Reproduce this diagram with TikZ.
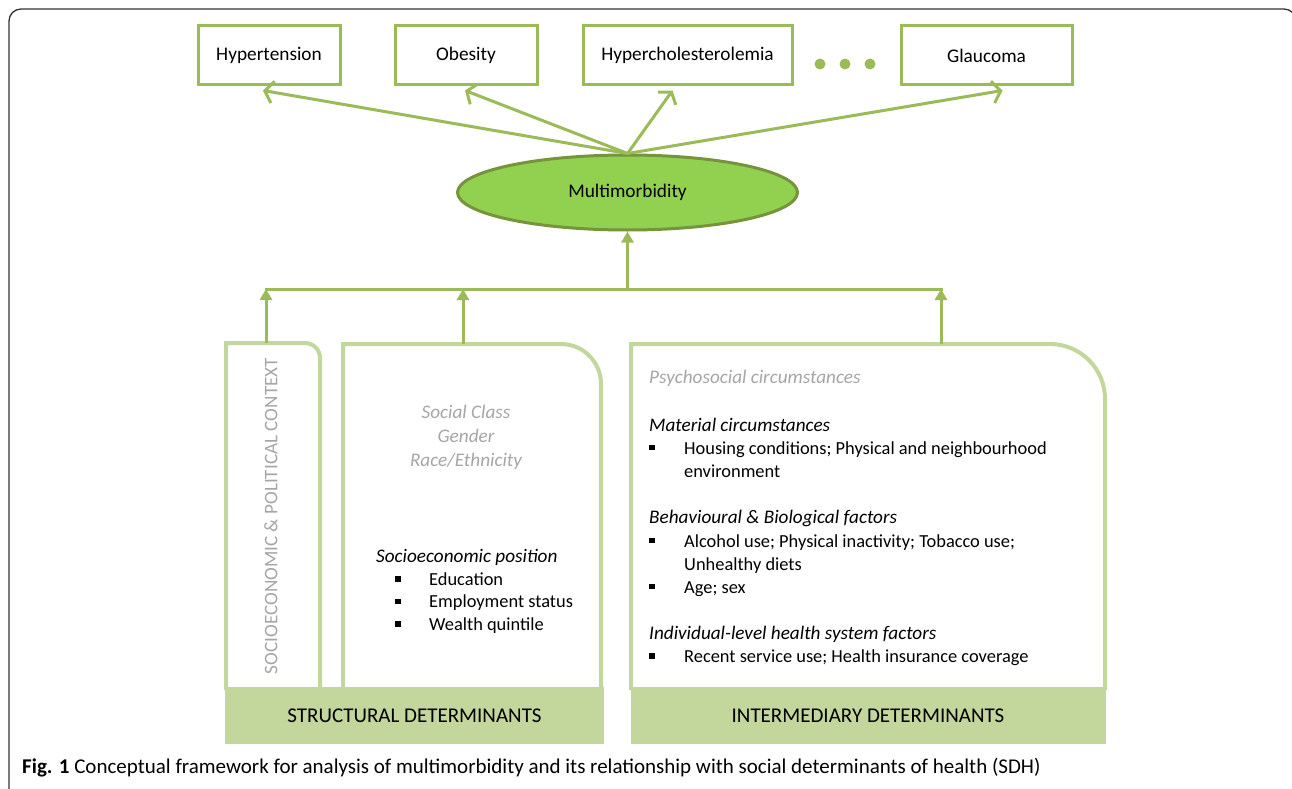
\documentclass[tikz,border=0pt]{standalone}
\usepackage{fontspec}
\setmainfont{Carlito}
\usetikzlibrary{arrows.meta,shapes.geometric,calc}
\definecolor{condline}{HTML}{9BBB59}
\definecolor{ovalfill}{HTML}{92D050}
\definecolor{ovaldraw}{HTML}{77933C}
\definecolor{panelline}{HTML}{C3D69B}
\definecolor{softgray}{HTML}{A6A6A6}
\definecolor{framegray}{HTML}{333333}
\newcommand{\bodysize}{\fontsize{18.4}{22}\selectfont}
\newcommand{\slantsize}{\fontsize{19.2}{22}\selectfont\itshape}

\begin{document}
\begin{tikzpicture}[x=1pt, y=-1pt,
 cond/.style={draw=condline, line width=3pt, fill=white, font=\fontsize{19.3}{22}\selectfont,
              minimum height=59pt, inner sep=0pt},
 oval/.style={ellipse, draw=ovaldraw, fill=ovalfill, line width=3pt, font=\fontsize{19.3}{22}\selectfont,
              minimum width=340pt, minimum height=75pt},
 pan/.style={draw=panelline, line width=4pt, fill=white},
 band/.style={fill=panelline, font=\fontsize{21}{24}\selectfont, minimum height=57pt, inner sep=0pt},
 dot/.style={circle, fill=condline, minimum size=11pt, inner sep=0pt},
 bul/.style={fill=black, minimum size=5.5pt, inner sep=0pt},
 txt/.style={anchor=base west, font=\bodysize, inner sep=0pt},
 head/.style={txt, font=\slantsize},
 soft/.style={txt, font=\slantsize, text=softgray},
 fan/.style={-{Straight Barb[length=8pt, width=22pt]}, condline, line width=3pt},
 up/.style={-{Triangle[length=11pt, width=12pt]}, condline, line width=3pt},
 bar/.style={condline, line width=3pt},
]
 \useasboundingbox (0,0) rectangle (1292,789);
 \draw[framegray, line width=1.3pt, rounded corners=12pt] (9,797) -- (9,9) -- (1296,9) -- (1296,797);

 % conditions
 \node[cond, minimum width=142pt] (hyp) at (269,55.5) {Hypertension};
 \node[cond, minimum width=142pt] (obe) at (466,55.5) {Obesity};
 \node[cond, minimum width=209pt] (chol) at (687.5,55.5) {Hypercholesterolemia};
 \node[cond, minimum width=171pt] (glau) at (986.5,55.5) {Glaucoma};
 \node[dot] (d1) at (820,64) {};
 \node[dot] (d2) at (845,64) {};
 \node[dot] (d3) at (870,64) {};

 \node[oval] (multi) at (627.5,192.5) {Multimorbidity};

 \draw[fan] (multi.north) -- ($(hyp.south)+(-6,4)$);
 \draw[fan] (multi.north) -- ($(obe.south)+(-1,4)$);
 \draw[fan] (multi.north) -- ($(chol.south)+(-15,4)$);
 \draw[fan] (multi.north) -- ($(glau.south)+(16,4)$);

 % determinant panels
 \draw[pan] (226,690) -- (226,343) -- (305,343) .. controls (313.3,343) and (320,349.7) .. (320,358) -- (320,690);
 \draw[pan] (343,690) -- (343,344) -- (561,344) .. controls (583.1,344) and (601,361.9) .. (601,384) -- (601,690);
 \draw[pan] (631,690) -- (631,344) -- (1050,344) .. controls (1080.4,344) and (1105,368.6) .. (1105,399) -- (1105,690);

 \node[band, minimum width=379pt] (struct) at (414.5,715.5) {STRUCTURAL DETERMINANTS};
 \node[band, minimum width=475pt] (inter) at (868,715.5) {INTERMEDIARY DETERMINANTS};

 % joining bar
 \coordinate (ctxtop) at (266,343);
 \coordinate (septop) at (463,344);
 \coordinate (inttop) at (941,344);
 \coordinate (jctx) at (266,289);
 \coordinate (jsep) at (463,289);
 \coordinate (jmid) at (627.5,289);
 \coordinate (jint) at (941,289);
 \draw[bar] ($(jctx)+(-1.5,0)$) -- ($(jint)+(1.5,0)$);
 \draw[up] (ctxtop) -- (jctx);
 \draw[up] (septop) -- (jsep);
 \draw[up] (inttop) -- (jint);
 \draw[up] (jmid) -- (multi.south);

 % structural side
 \node[rotate=90, font=\fontsize{19.2}{22}\selectfont, text=softgray] (ctx) at (271,516) {SOCIOECONOMIC \& POLITICAL CONTEXT};
 \node[anchor=base, font=\slantsize, text=softgray, inner sep=0pt] (cls) at (466,418) {Social Class};
 \node[anchor=base, font=\slantsize, text=softgray, inner sep=0pt] (gen) at (466,442) {Gender};
 \node[anchor=base, font=\slantsize, text=softgray, inner sep=0pt] (race) at (466,466) {Race/Ethnicity};
 \node[head] (sep) at (376,562) {Socioeconomic position};
 \node[bul] (sb1) at (398,579) {};
 \node[txt] (edu) at (429,585) {Education};
 \node[bul] (sb2) at (398,601.5) {};
 \node[txt] (emp) at (429,607.5) {Employment status};
 \node[bul] (sb3) at (398,624) {};
 \node[txt] (wq) at (429,630) {Wealth quintile};

 % intermediary side
 \node[soft] (psy) at (649,383) {Psychosocial circumstances};
 \node[head] (mat) at (649,431) {Material circumstances};
 \node[bul] (ib1) at (652,447.5) {};
 \node[txt] (hou) at (684,454) {Housing conditions; Physical and neighbourhood};
 \node[txt] (env) at (684,477) {environment};
 \node[head] (beh) at (649,523) {Behavioural \& Biological factors};
 \node[bul] (ib2) at (652,540.5) {};
 \node[txt] (alc) at (684,547) {Alcohol use; Physical inactivity; Tobacco use;};
 \node[txt] (diet) at (684,570) {Unhealthy diets};
 \node[bul] (ib3) at (652,586.5) {};
 \node[txt] (age) at (684,593) {Age; sex};
 \node[head] (ind) at (649,639) {Individual-level health system factors};
 \node[bul] (ib4) at (652,656) {};
 \node[txt] (rec) at (684,662) {Recent service use; Health insurance coverage};

 % caption
 \node[anchor=base west, inner sep=0pt, font=\fontsize{21}{24}\selectfont] (cap) at (22,773)
   {\textbf{Fig. 1} Conceptual framework for analysis of multimorbidity and its relationship with social determinants of health (SDH)};
\end{tikzpicture}
\end{document}
